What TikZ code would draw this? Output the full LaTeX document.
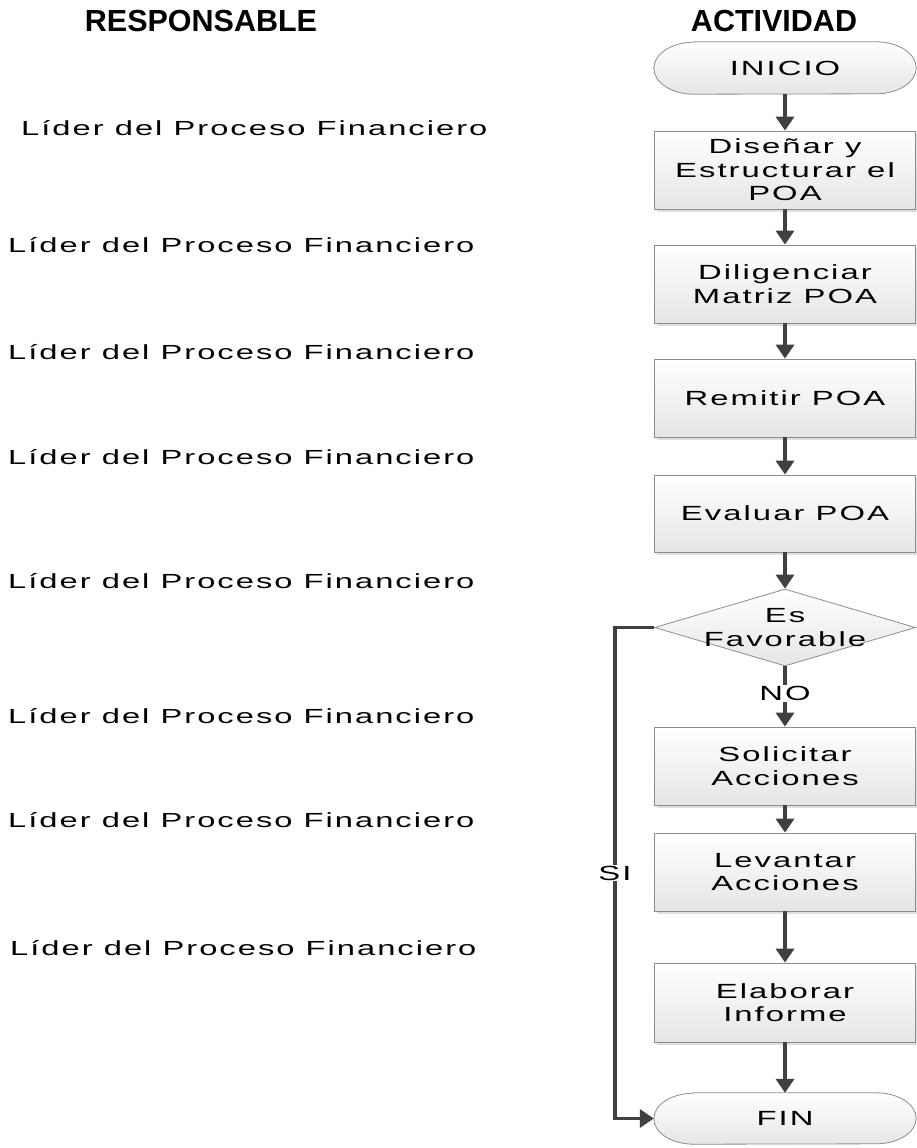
\documentclass[tikz,border=0pt]{standalone}
\usepackage{fontspec}
\setmainfont{Liberation Sans}
\newfontfamily\bodyfont[FakeStretch=1.6,LetterSpace=10]{Liberation Sans}
\usetikzlibrary{arrows.meta,shadows,calc,shapes.geometric,backgrounds}

\definecolor{flowgray}{HTML}{404040}
\definecolor{edgegray}{HTML}{8C8C8C}

\begin{document}
\begin{tikzpicture}[x=1pt,y=1pt,
  head/.style={inner sep=0pt,font=\bfseries\fontsize{30.5}{32}\selectfont},
  lbl/.style={anchor=west,inner sep=0pt,font=\bodyfont\fontsize{20.4}{22.5}\selectfont},
  boxtext/.style={align=center,font=\bodyfont\fontsize{20.5}{23.5}\selectfont},
  stepbox/.style={boxtext,draw=edgegray,line width=0.8pt,top color=white,bottom color=black!10,
    minimum width=261pt,minimum height=78pt,inner sep=0pt,
    drop shadow={shadow xshift=2pt,shadow yshift=-3pt,fill=black!25,opacity=.5}},
  termbox/.style={boxtext,minimum width=262pt,minimum height=52pt,inner sep=0pt},
  termshape/.style={draw=edgegray,line width=0.8pt,top color=white,bottom color=black!10},
  decision/.style={diamond,draw=edgegray,line width=0.8pt,top color=white,bottom color=black!10,
    minimum width=261pt,minimum height=77pt,inner sep=0pt},
  flow/.style={draw=flowgray,line width=3.5pt,-{Triangle[length=14pt,width=18pt]}},
  flowlabel/.style={boxtext,fill=white,inner sep=1pt}
]
\useasboundingbox (0,0) rectangle (916,-1148);

% column headings
\node[head] (hresp) at (201,-21) {RESPONSABLE};
\node[head] (hact) at (774,-21) {ACTIVIDAD};

% responsible for each step
\node[lbl] (r1) at (21,-128) {Líder del Proceso Financiero};
\node[lbl] (r2) at (8,-245) {Líder del Proceso Financiero};
\node[lbl] (r3) at (8,-352) {Líder del Proceso Financiero};
\node[lbl] (r4) at (8,-457) {Líder del Proceso Financiero};
\node[lbl] (r5) at (8,-581) {Líder del Proceso Financiero};
\node[lbl] (r6) at (8,-716) {Líder del Proceso Financiero};
\node[lbl] (r7) at (8,-820) {Líder del Proceso Financiero};
\node[lbl] (r8) at (10,-948) {Líder del Proceso Financiero};

% activity flow
\node[termbox] (ini) at (785,-68) {INICIO};
\node[stepbox] (b1) at (785,-170) {Diseñar y\\Estructurar el\\POA};
\node[stepbox] (b2) at (785,-284) {Diligenciar\\Matriz POA};
\node[stepbox] (b3) at (785,-398) {Remitir POA};
\node[stepbox,minimum height=77pt] (b4) at (785,-513.5) {Evaluar POA};
\node[decision,label={[boxtext]center:{Es\\Favorable}}] (dec) at (785,-627.5) {};
\node[stepbox] (b5) at (785,-766) {Solicitar\\Acciones};
\node[stepbox] (b6) at (785,-872) {Levantar\\Acciones};
\node[stepbox,minimum height=79pt] (b7) at (785,-1002.5) {Elaborar\\Informe};
\node[termbox,minimum height=51pt] (fin) at (785,-1118.5) {FIN};

% rounded terminal outlines behind their texts
\begin{pgfonlayer}{background}
  \foreach \t/\ry in {ini/26,fin/25.5} {
    \path[termshape] ($(\t.north west)+(40,0)$) -- ($(\t.north east)+(-40,0)$)
      arc[start angle=90,end angle=-90,x radius=40,y radius=\ry]
      -- ($(\t.south west)+(40,0)$)
      arc[start angle=270,end angle=90,x radius=40,y radius=\ry] -- cycle;
  }
\end{pgfonlayer}

% connectors
\draw[flow] (ini) -- (b1);
\draw[flow] (b1) -- (b2);
\draw[flow] (b2) -- (b3);
\draw[flow] (b3) -- (b4);
\draw[flow] (b4) -- (dec);
\draw[flow] (dec) -- node[flowlabel,pos=0.45] (no) {NO} (b5);
\draw[flow] (b5) -- (b6);
\draw[flow] (b6) -- (b7);
\draw[flow] (b7) -- (fin);
\coordinate (siturn) at (615,-627.5);
\draw[flow] (dec.west) -- (siturn) |- node[flowlabel,pos=0.25] (si) {SI} (fin.west);
\end{tikzpicture}
\end{document}
